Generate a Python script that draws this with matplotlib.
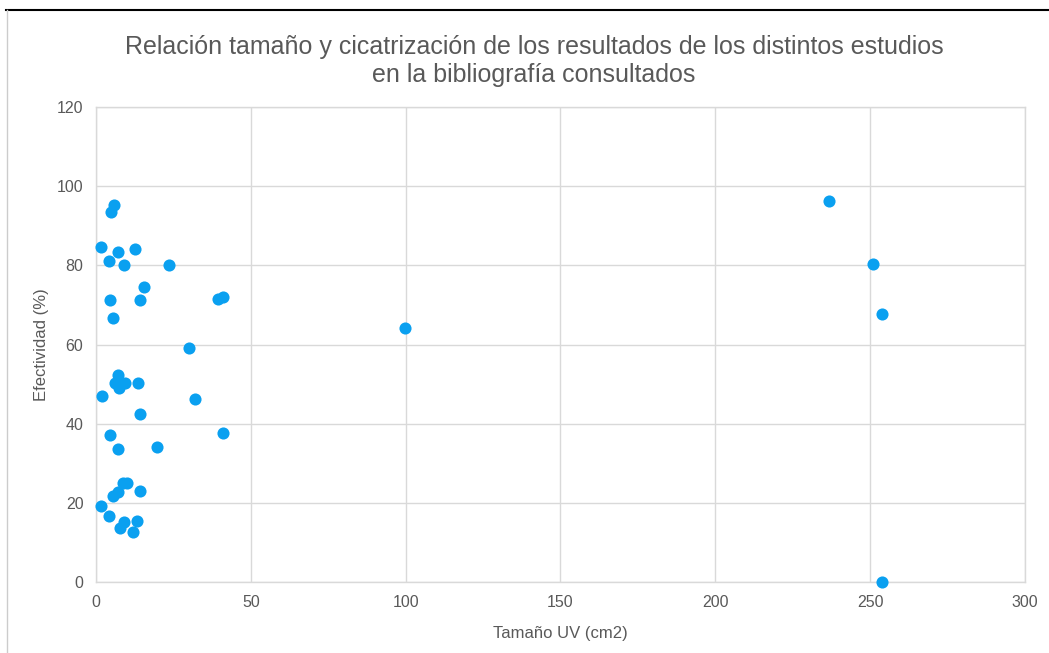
import matplotlib
matplotlib.use('Agg')
import matplotlib.pyplot as plt
from matplotlib.lines import Line2D

plt.rcParams['font.family'] = ['Liberation Sans', 'DejaVu Sans']

# tamaño de la úlcera (cm2) y efectividad (%) de cada estudio
tamano = [5.7, 4.9, 1.5, 7.0, 12.5, 4.2, 8.9, 23.5, 15.4, 4.5, 14.2, 39.3, 41.1,
          5.4, 29.9, 7.2, 6.1, 7.4, 9.4, 13.7, 1.8, 32.0, 14.2, 4.5, 41.1, 7.0,
          19.8, 8.8, 10.1, 7.2, 5.6, 14.2, 1.6, 4.2, 7.7, 9.0, 13.2, 11.9,
          99.8, 236.7, 250.9, 253.8, 253.8]
efectividad = [95.2, 93.4, 84.7, 83.4, 84.1, 81.2, 80.2, 80.2, 74.5, 71.2, 71.2, 71.5, 72.1,
               66.8, 59.2, 52.3, 50.2, 49.1, 50.2, 50.2, 47.0, 46.2, 42.4, 37.1, 37.7, 33.5,
               34.2, 25.1, 25.1, 22.8, 21.7, 23.1, 19.2, 16.8, 13.6, 15.2, 15.4, 12.6,
               64.2, 96.3, 80.3, 67.7, 0.0]

xticks = [0, 50, 100, 150, 200, 250, 300]
yticks = [0, 20, 40, 60, 80, 100, 120]

titulo = ('Relación tamaño y cicatrización de los resultados de los distintos estudios\n'
          'en la bibliografía consultados')

gris_txt = '#595959'
gris_grid = '#d9d9d9'

fig = plt.figure(figsize=(10.49, 6.53), dpi=100)
ax = fig.add_axes([0.0915, 0.1087, 0.8856, 0.7274])

ax.scatter(tamano, efectividad, s=76, color='#0aa0f0', linewidths=0, zorder=3, clip_on=False)

ax.set_xlim(0, 300)
ax.set_ylim(0, 120)
ax.set_xticks(xticks)
ax.set_yticks(yticks)
ax.grid(True, color=gris_grid, linewidth=1.0)
ax.set_axisbelow(True)
for s in ax.spines.values():
    s.set_color(gris_grid)
    s.set_linewidth(1.0)
ax.tick_params(length=0, labelsize=11.5, labelcolor=gris_txt, pad=9)

ax.set_xlabel('Tamaño UV (cm2)', fontsize=12, color=gris_txt, labelpad=12)
ax.set_ylabel('Efectividad (%)', fontsize=12, color=gris_txt, labelpad=6)
fig.text(0.509, 0.907, titulo, ha='center', va='center', fontsize=18,
         color=gris_txt, linespacing=1.2)

# marco de la captura
fig.add_artist(Line2D([0.006, 1.0], [0.985, 0.985], color='black', linewidth=1.5,
                      transform=fig.transFigure))
fig.add_artist(Line2D([0.007, 0.007], [0.0, 0.985], color='#cccccc', linewidth=1.0,
                      transform=fig.transFigure))

fig.savefig('out.png', dpi=100)
